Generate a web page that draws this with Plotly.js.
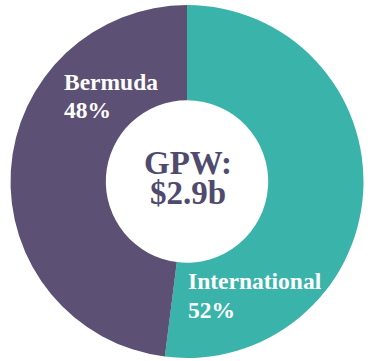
<!DOCTYPE html>
<html>
<head>
<meta charset="utf-8">
<script src="https://cdn.plot.ly/plotly-3.0.1.min.js"></script>
<style>html,body{margin:0;padding:0;background:#fff;}#chart{width:375px;height:361px;}</style>
</head>
<body>
<div id="chart"></div>
<script>
const labels = ["International", "Bermuda"];
const values = [52, 48];
const colors = ["#3ab4aa", "#5c5074"];
const centerLines = ["GPW:", "$2.9b"];

const W = 375, H = 361;
const M = {l: 8, r: 9, t: 5, b: 3};
function px(x) { return (x - M.l) / (W - M.l - M.r); }
function py(y) { return 1 - (y - M.t) / (H - M.t - M.b); }

const serif = "'Liberation Serif', 'Times New Roman', serif";
const labelFont = {family: serif, size: 23.5, color: "#ffffff", weight: "bold"};
const centerFont = {family: serif, size: 33, color: "#4f4a6e", weight: "bold"};

// label positions (pixel: left x, line middle y)
const labelPos = {
  "Bermuda": {x: 63, y: [82, 110]},
  "International": {x: 187, y: [281, 310]}
};

const annotations = [];
labels.forEach((lab, i) => {
  const p = labelPos[lab];
  [lab, values[i] + "%"].forEach((t, k) => {
    annotations.push({
      text: "<b>" + t + "</b>", x: px(p.x), y: py(p.y[k]), xref: "paper", yref: "paper",
      xanchor: "left", yanchor: "middle", showarrow: false, font: labelFont, borderpad: 0
    });
  });
});
const centerY = [163, 193];
centerLines.forEach((t, k) => {
  annotations.push({
    text: "<b>" + t + "</b>", x: px(188), y: py(centerY[k]), xref: "paper", yref: "paper",
    xanchor: "center", yanchor: "middle", showarrow: false, font: centerFont, borderpad: 0
  });
});

const data = [{
  type: "pie",
  labels: labels,
  values: values,
  hole: 0.46,
  sort: false,
  direction: "clockwise",
  rotation: 0,
  marker: {colors: colors, line: {width: 0}},
  textinfo: "none",
  hoverinfo: "none"
}];

const layout = {
  width: W, height: H,
  margin: M,
  showlegend: false,
  paper_bgcolor: "#ffffff",
  annotations: annotations
};

Plotly.newPlot("chart", data, layout, {displayModeBar: false, staticPlot: true});
</script>
</body>
</html>
